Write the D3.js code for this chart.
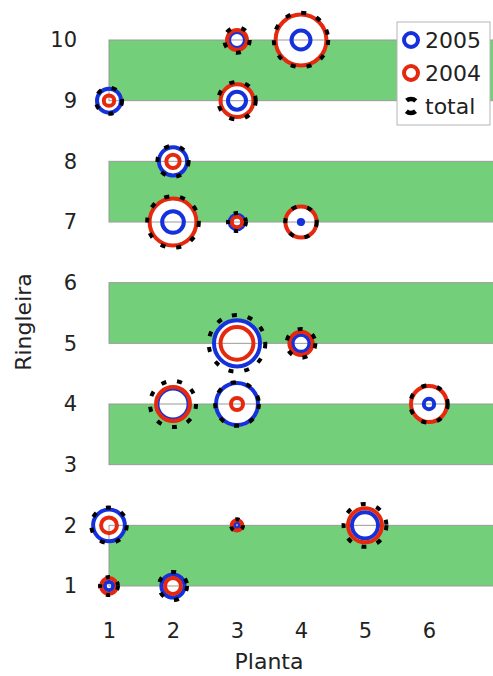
<!DOCTYPE html>
<html>
<head>
<meta charset="utf-8">
<script src="https://cdn.jsdelivr.net/npm/d3@7"></script>
<style>
  body { margin: 0; background: #fff; }
  text { font-family: "DejaVu Sans", Verdana, sans-serif; fill: #222; }
</style>
</head>
<body>
<div id="chart"></div>
<script>
// Plant position (Planta) and row (Ringleira) of each marker
const planta    = [1, 3, 4, 3, 2, 2, 3, 4, 3, 4, 3, 2, 6, 1, 3, 5, 1, 2];
const ringleira = [9, 10, 10, 9, 8, 7, 7, 7, 5, 5, 4, 4, 4, 2, 2, 2, 1, 1];

// counts per year (marker area ~ count)
const count2005  = [16, 7, 10, 9, 22, 13, 6, 0.5, 59, 8, 49, 27, 3, 28, 1, 19, 2, 15];
const count2004  = [3, 11, 72, 30, 5, 61, 3, 27, 30, 15, 4, 32, 36, 7, 3, 32, 7, 7];
const countTotal = [19, 18, 82, 39, 27, 74, 9, 27.5, 89, 23, 53, 59, 39, 35, 4, 51, 9, 22];

// shaded row bands
const bandRows = [[1, 2], [3, 4], [5, 6], [7, 8], [9, 10]];

const xTicks = [1, 2, 3, 4, 5, 6];
const yTicks = [1, 2, 3, 4, 5, 6, 7, 8, 9, 10];

const legendItems = ["2005", "2004", "total"];

const width = 493, height = 676;
const blue = "#1531dc", red = "#e5290e", green = "#73cf79";

const svg = d3.select("#chart").append("svg")
    .attr("width", width)
    .attr("height", height);

const x = d3.scaleLinear().domain([0.5, 7]).range([77, 493]);
const y = d3.scaleLinear().domain([1, 10]).range([586, 40]);
const r = d3.scaleSqrt().domain([0, 100]).range([0, 30]);

const points = planta.map((p, i) => ({
    x: p, y: ringleira[i], a: count2005[i], b: count2004[i], t: countTotal[i]
}));

// bands
svg.append("g").selectAll("rect")
    .data(bandRows)
    .join("rect")
    .attr("x", x(1))
    .attr("y", d => y(d[1]))
    .attr("width", x(7.2) - x(1))
    .attr("height", d => y(d[0]) - y(d[1]))
    .attr("fill", green);

// white discs inside the rings
const discs = svg.append("g");
points.forEach(d => {
    discs.append("circle")
        .attr("cx", x(d.x)).attr("cy", y(d.y))
        .attr("r", Math.max(r(d.a), r(d.b)))
        .attr("fill", "#fff");
});

// band outlines
svg.append("g").selectAll("rect")
    .data(bandRows)
    .join("rect")
    .attr("x", x(1))
    .attr("y", d => y(d[1]))
    .attr("width", x(7.2) - x(1))
    .attr("height", d => y(d[0]) - y(d[1]))
    .attr("fill", "none")
    .attr("stroke", "#9a9a9a")
    .attr("stroke-width", 1);

// rings
const rings = svg.append("g").attr("fill", "none");
rings.selectAll(".b2005")
    .data(points)
    .join("circle")
    .attr("class", "b2005")
    .attr("cx", d => x(d.x)).attr("cy", d => y(d.y))
    .attr("r", d => r(d.a))
    .attr("stroke", blue)
    .attr("stroke-width", 4);

rings.selectAll(".b2004")
    .data(points)
    .join("circle")
    .attr("class", "b2004")
    .attr("cx", d => x(d.x)).attr("cy", d => y(d.y))
    .attr("r", d => r(d.b))
    .attr("stroke", red)
    .attr("stroke-width", 4);

rings.selectAll(".btotal")
    .data(points)
    .join("circle")
    .attr("class", "btotal")
    .attr("cx", d => x(d.x)).attr("cy", d => y(d.y))
    .attr("r", d => r(d.t))
    .attr("stroke", "#000")
    .attr("stroke-width", 4)
    .attr("stroke-dasharray", d => r(d.t) < 10 ? "4 9" : "5 11");

// axes (labels only)
const xAxis = svg.append("g")
    .attr("transform", `translate(0,${y(1) + 33})`)
    .call(d3.axisBottom(x).tickValues(xTicks).tickSize(0).tickPadding(4).tickFormat(d3.format("d")));
xAxis.select(".domain").remove();
xAxis.selectAll("text").attr("font-size", 21).attr("fill", "#222")
    .style("font-family", "'DejaVu Sans', Verdana, sans-serif");

const yAxis = svg.append("g")
    .attr("transform", `translate(${x(0.5)},0)`)
    .call(d3.axisLeft(y).tickValues(yTicks).tickSize(0).tickPadding(0).tickFormat(d3.format("d")));
yAxis.select(".domain").remove();
yAxis.selectAll("text").attr("font-size", 21).attr("fill", "#222")
    .style("font-family", "'DejaVu Sans', Verdana, sans-serif");

svg.append("text")
    .attr("x", (x(1) + x(6)) / 2)
    .attr("y", 669)
    .attr("text-anchor", "middle")
    .attr("font-size", 22)
    .text("Planta");

svg.append("text")
    .attr("transform", `translate(31,322) rotate(-90)`)
    .attr("text-anchor", "middle")
    .attr("font-size", 22)
    .text("Ringleira");

// legend
const legend = svg.append("g").attr("transform", "translate(397,22)");
legend.append("rect")
    .attr("width", 93).attr("height", 103)
    .attr("fill", "#fff")
    .attr("stroke", "#b5b5b5");

legendItems.forEach((name, i) => {
    const g = legend.append("g").attr("transform", `translate(14,${18 + i * 33})`);
    const c = g.append("circle").attr("r", 7).attr("fill", "none");
    if (i === 0) c.attr("stroke", blue).attr("stroke-width", 4);
    else if (i === 1) c.attr("stroke", red).attr("stroke-width", 4);
    else c.attr("stroke", "#000").attr("stroke-width", 4.5)
        .attr("stroke-dasharray", "10 12").attr("stroke-dashoffset", -6);
    g.append("text")
        .attr("x", 14).attr("dy", "0.36em")
        .attr("font-size", 22)
        .text(name);
});
</script>
</body>
</html>
